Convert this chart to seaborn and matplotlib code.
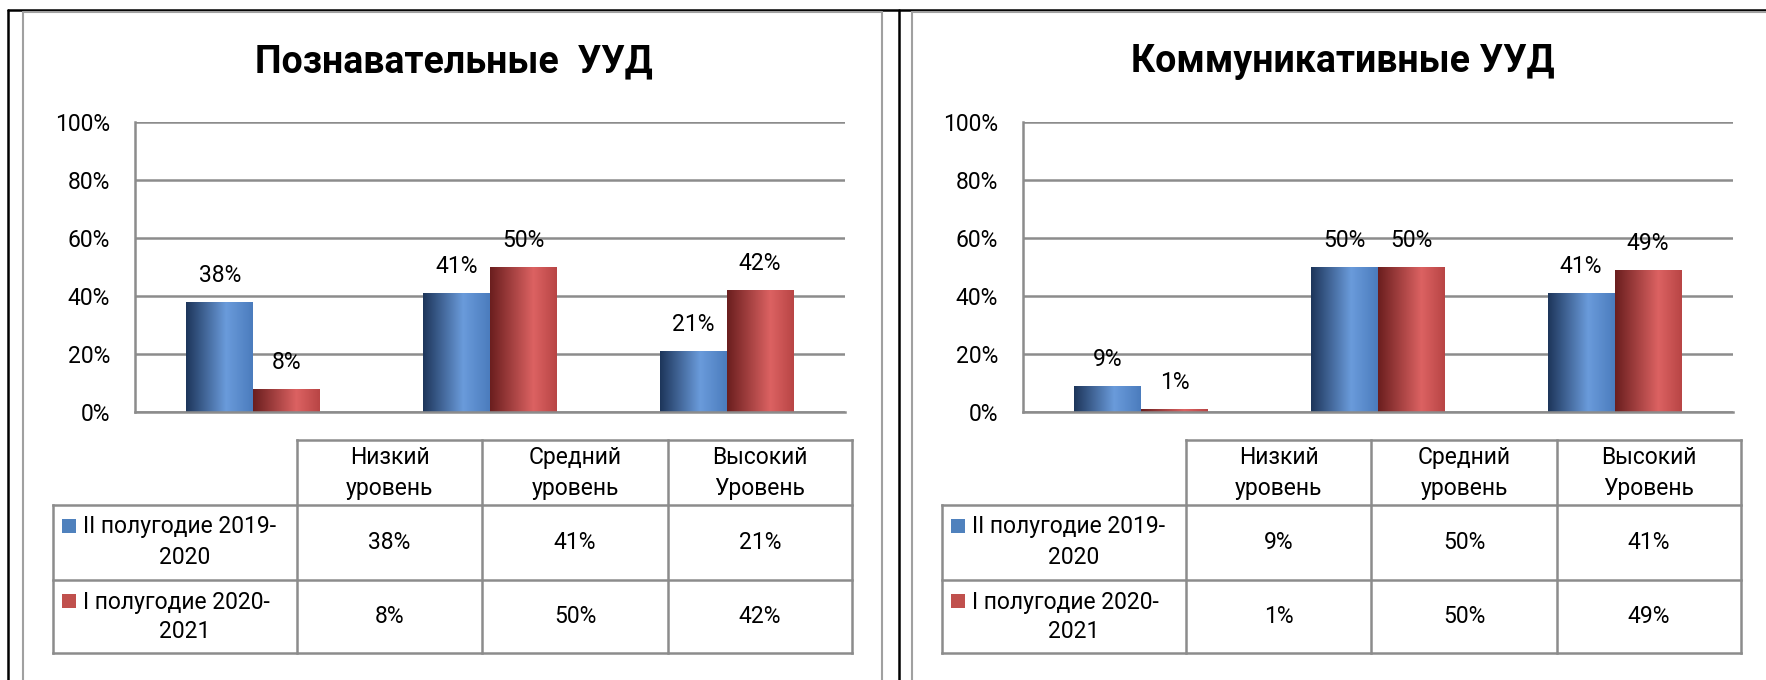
import numpy as np
import pandas as pd
import matplotlib
matplotlib.use('Agg')
import matplotlib.pyplot as plt
import seaborn as sns
from matplotlib.colors import LinearSegmentedColormap
from matplotlib.patches import Rectangle

# data
levels = ['Низкий\nуровень', 'Средний\nуровень', 'Высокий\nУровень']
periods = ['II полугодие 2019-2020', 'I полугодие 2020-2021']
titles = ['Познавательные  УУД', 'Коммуникативные УУД']
cognitive_2019 = [38, 41, 21]
cognitive_2020 = [8, 50, 42]
communicative_2019 = [9, 50, 41]
communicative_2020 = [1, 50, 49]
y_ticks = [0, 20, 40, 60, 80, 100]

sns.set_theme(style='white')
plt.rcParams['font.family'] = ['Roboto', 'DejaVu Sans']

blue = '#4f81bd'
red = '#c0504d'
grid_col = '#8c8c8c'
blue_cmap = LinearSegmentedColormap.from_list('b', [(0, '#1d355a'), (0.6, '#6a9bdb'), (1, '#4b7cbd')])
red_cmap = LinearSegmentedColormap.from_list('r', [(0, '#6a1e1e'), (0.65, '#dc6262'), (1, '#b84545')])

W, H = 1766, 680
fig = plt.figure(figsize=(W / 100, H / 100), dpi=100)

# overlay in pixel coords for frames, titles, tables
ov = fig.add_axes([0, 0, 1, 1])
ov.set_xlim(0, W)
ov.set_ylim(H, 0)
ov.axis('off')

# page frames
ov.plot([8, W], [10, 10], color='black', lw=1.8)
ov.plot([8, 8], [10, H], color='black', lw=1.8)
ov.plot([899, 899], [10, H], color='black', lw=1.8)
ov.plot([23, 882], [12, 12], color='#a0a0a0', lw=1.5)
ov.plot([23, 23], [12, H], color='#a0a0a0', lw=1.5)
ov.plot([882, 882], [12, H], color='#a0a0a0', lw=1.5)
ov.plot([912, W], [12, 12], color='#a0a0a0', lw=1.5)
ov.plot([912, 912], [12, H], color='#a0a0a0', lw=1.5)


def draw_panel(ax, title, vals_a, vals_b, dx):
    df = pd.DataFrame({
        'level': levels * 2,
        'period': [periods[0]] * 3 + [periods[1]] * 3,
        'value': vals_a + vals_b,
    })
    sns.barplot(data=df, x='level', y='value', hue='period', palette=[blue, red],
                width=0.566, saturation=1, errorbar=None, legend=False, ax=ax,
                edgecolor='none')

    grad = np.linspace(0, 1, 256).reshape(1, -1)
    for bar in list(ax.patches):
        x0, w, h = bar.get_x(), bar.get_width(), bar.get_height()
        fc = bar.get_facecolor()
        cmap = blue_cmap if fc[2] > fc[0] else red_cmap
        im = ax.imshow(grad, cmap=cmap, extent=[x0, x0 + w, 0, h], aspect='auto',
                       zorder=bar.get_zorder() + 0.1, interpolation='bicubic')
        im.set_clip_path(bar)
        ax.annotate(f'{int(round(h))}%', (x0 + w / 2, h), xytext=(0, 19),
                    textcoords='offset points', ha='center', va='center',
                    fontsize=16.5, color='black')

    ax.set_xlim(-0.5, 2.5)
    ax.set_ylim(0, 100)
    ax.set_yticks(y_ticks)
    ax.set_yticklabels([f'{t}%' for t in y_ticks])
    ax.set_xticks([])
    ax.set_xlabel('')
    ax.set_ylabel('')
    ax.tick_params(axis='y', length=0, pad=18, labelsize=16.5, labelcolor='black')
    ax.yaxis.grid(True, color=grid_col, lw=1.8)
    ax.set_axisbelow(True)
    for s in ['top', 'right']:
        ax.spines[s].set_visible(False)
    for s in ['left', 'bottom']:
        ax.spines[s].set_color(grid_col)
        ax.spines[s].set_linewidth(1.8)

    # title
    ov.text(454 + dx, 62, title, ha='center', va='center', fontsize=27,
            fontweight='bold', color='black')

    # data table
    cols = [297 + dx, 482 + dx, 668 + dx, 852 + dx]
    rows = [440, 505, 580, 653]
    left = 53 + dx
    lkw = dict(color=grid_col, lw=1.8, solid_capstyle='projecting')
    ov.plot([cols[0], cols[-1]], [rows[0], rows[0]], **lkw)
    for r in rows[1:]:
        ov.plot([left, cols[-1]], [r, r], **lkw)
    ov.plot([left, left], [rows[1], rows[-1]], **lkw)
    for c in cols:
        ov.plot([c, c], [rows[0], rows[-1]], **lkw)

    for i, lvl in enumerate(levels):
        cx = (cols[i] + cols[i + 1]) / 2
        ov.text(cx, 473, lvl, ha='center', va='center', fontsize=16.5,
                linespacing=1.45, color='black')
        for j, vals in enumerate([vals_a, vals_b]):
            ov.text(cx, (rows[j + 1] + rows[j + 2]) / 2, f'{vals[i]}%',
                    ha='center', va='center', fontsize=16.5, color='black')

    for j, (p, col) in enumerate(zip(periods, [blue, red])):
        first, second = p.rsplit('-', 1)
        top = rows[j + 1]
        ov.add_patch(Rectangle((62 + dx, top + 14), 14, 14, facecolor=col,
                               edgecolor='none'))
        ov.text(83 + dx, top + 22, first + '-', ha='left', va='center',
                fontsize=16.5, color='black')
        ov.text(185 + dx, top + 52, second, ha='center', va='center',
                fontsize=16.5, color='black')


ax1 = fig.add_axes([135 / W, 1 - 412 / H, 710 / W, 290 / H])
ax2 = fig.add_axes([1023 / W, 1 - 412 / H, 710 / W, 290 / H])
draw_panel(ax1, titles[0], cognitive_2019, cognitive_2020, 0)
draw_panel(ax2, titles[1], communicative_2019, communicative_2020, 889)

fig.savefig('out.png', dpi=100)
plt.close(fig)
